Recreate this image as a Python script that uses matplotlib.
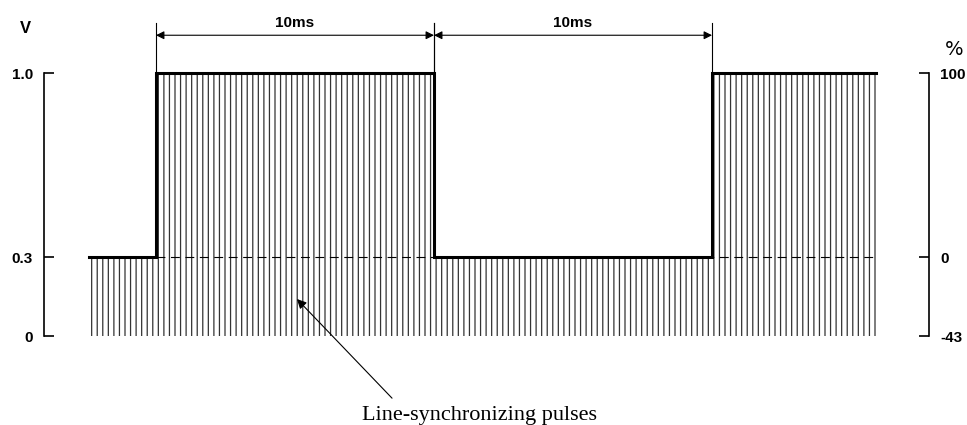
import numpy as np
import matplotlib
matplotlib.use('Agg')
import matplotlib.pyplot as plt

# signal: time in ms, level in volts
t_sig = [-2.4, 0.0, 0.0, 10.0, 10.0, 20.0, 20.0, 25.9]
v_sig = [0.3, 0.3, 1.0, 1.0, 0.3, 0.3, 1.0, 1.0]
black_level = 0.3

v_ticks = [0.0, 0.3, 1.0]
v_ticklabels = ['0', '0.3', '1.0']
pct_ticks = [-43, 0, 100]
pct_ticklabels = ['-43', '0', '100']

periods = [(0.0, 10.0), (10.0, 20.0)]
period_label = '10ms'


def v2p(v):
    return (v - black_level) / (1.0 - black_level) * 100


plt.rcParams.update({
    'font.family': 'Liberation Sans',
    'hatch.linewidth': 0.9,
})

fig = plt.figure(figsize=(9.67, 4.25), dpi=100)
ax = fig.add_axes([0, 0, 1, 1])
ylo, yhi = -0.338, 1.278
ax.set_xlim(-5.61, 29.17)
ax.set_ylim(ylo, yhi)

# hatched signal area
ax.fill_between(t_sig, 0, v_sig, facecolor='none', edgecolor='0.2',
                hatch='|||', linewidth=0)
ax.plot([0, t_sig[-1]], [black_level, black_level], color='k', lw=0.8,
        ls=(0, (8, 5)))
ax.plot(t_sig, v_sig, color='k', lw=2.2, solid_joinstyle='miter')

# left axis (volts)
for s in ['top', 'bottom', 'right']:
    ax.spines[s].set_visible(False)
ax.spines['left'].set_position(('data', -4.03))
ax.spines['left'].set_bounds(0, 1)
ax.spines['left'].set_linewidth(1.2)
ax.set_xticks([])
ax.set_yticks(v_ticks)
ax.set_yticklabels(v_ticklabels, fontweight='bold', fontsize=11)
ax.tick_params(axis='y', direction='in', length=7, width=1.2, pad=8)
ax.text(-4.68, 1.17, 'V', fontweight='bold', fontsize=12,
        ha='center', va='center')

# right axis (percent)
ax2 = ax.twinx()
ax2.set_ylim(v2p(ylo), v2p(yhi))
for s in ['top', 'bottom', 'left']:
    ax2.spines[s].set_visible(False)
ax2.spines['right'].set_position(('data', 27.8))
ax2.spines['right'].set_bounds(-43, 100)
ax2.spines['right'].set_linewidth(1.2)
ax2.set_yticks(pct_ticks)
ax2.set_yticklabels(pct_ticklabels, fontweight='bold', fontsize=11)
ax2.tick_params(axis='y', direction='in', length=7, width=1.2, pad=8)
ax2.text(28.7, 1.09, '%', fontsize=14, ha='center', va='center',
         color='k', transform=ax.transData, family='DejaVu Sans')

# period dimension arrows
for t0, t1 in periods:
    for tx in (t0, t1):
        ax.plot([tx, tx], [1.0, 1.19], color='k', lw=0.8)
    ax.annotate('', xy=(t1, 1.144), xytext=(t0, 1.144),
                arrowprops=dict(arrowstyle='<|-|>', color='k', lw=0.8,
                                shrinkA=0, shrinkB=0,
                                mutation_scale=12))
    ax.text((t0 + t1) / 2, 1.19, period_label, fontweight='bold',
            fontsize=11, ha='center', va='center')

# annotation
ax.annotate('', xy=(5.07, 0.141), xytext=(8.49, -0.236),
            arrowprops=dict(arrowstyle='-|>', color='k', lw=0.8,
                            shrinkA=0, shrinkB=0, mutation_scale=14))
ax.text(11.65, -0.32, 'Line-synchronizing pulses', family='Liberation Serif',
        fontsize=16, ha='center', va='baseline')

fig.savefig('out.png', dpi=100)
